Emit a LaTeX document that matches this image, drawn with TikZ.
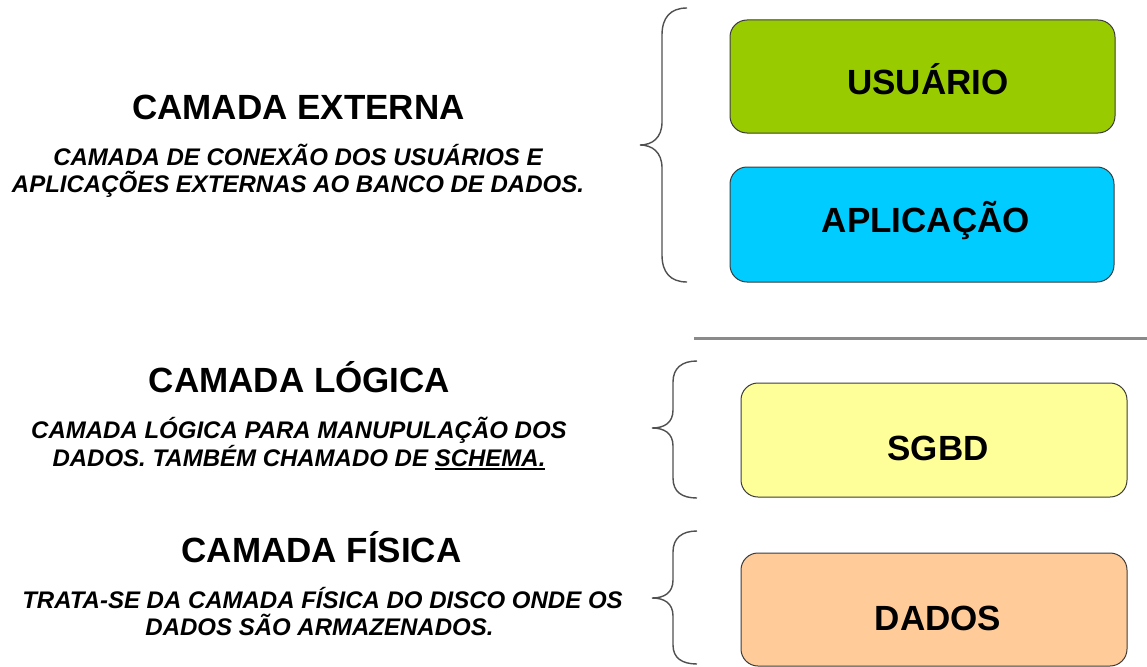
\documentclass[tikz,border=0pt]{standalone}
\usepackage{fontspec}
\setmainfont{Liberation Sans}
\definecolor{cgreen}{HTML}{99CC00}
\definecolor{ccyan}{HTML}{00CCFF}
\definecolor{cyellow}{HTML}{FFFF99}
\definecolor{corange}{HTML}{FFCC99}
\definecolor{boxline}{HTML}{3C3C3C}
\definecolor{bracecol}{HTML}{505050}
\definecolor{sepcol}{HTML}{8A8A8A}
\newcommand\myul[1]{\setbox0\hbox{#1}\rlap{\rule[-4pt]{\wd0}{1.6pt}}\box0}
\begin{document}
\begin{tikzpicture}[x=1pt,y=-1pt,
  layerbox/.style={draw=boxline, line width=1pt, rounded corners=17pt, inner sep=0pt},
  boxtext/.style={anchor=base, inner sep=0pt, font=\fontsize{35}{42}\selectfont\bfseries},
  titletext/.style={anchor=base, inner sep=0pt, font=\fontsize{35}{42}\selectfont\bfseries},
  desctext/.style={anchor=base, inner sep=0pt, font=\fontsize{24}{28}\selectfont\bfseries\itshape},
  bracepath/.style={draw=bracecol, line width=1.4pt},
]
\useasboundingbox (0,0) rectangle (1147,666);
\fill[white] (0,0) rectangle (1147,666);

% boxes
\node[layerbox, fill=cgreen, minimum width=385, minimum height=113] (usuario) at (922.5,76.5) {};
\node[boxtext] (usuarioT) at (928,95) {USUÁRIO};
\node[layerbox, fill=ccyan, minimum width=384, minimum height=115] (aplicacao) at (922,224.5) {};
\node[boxtext] (aplicacaoT) at (926,232) {APLICAÇÃO};
\node[layerbox, fill=cyellow, minimum width=386, minimum height=114] (sgbd) at (934,440) {};
\node[boxtext] (sgbdT) at (938,460) {SGBD};
\node[layerbox, fill=corange, minimum width=386, minimum height=113] (dados) at (934,609.5) {};
\node[boxtext] (dadosT) at (938,630) {DADOS};

% separator
\coordinate (sepA) at (694,338);
\coordinate (sepB) at (1147,338);
\draw[sepcol, line width=3pt] (sepA) -- (sepB);

% braces
\draw[bracepath] (687,8) .. controls (670,8) and (662,18) .. (662,35) -- (662,122)
  .. controls (662,138) and (652,145) .. (640,145)
  .. controls (652,145) and (662,152) .. (662,168) -- (662,255)
  .. controls (662,272) and (670,282) .. (687,282);
\draw[bracepath] (697,361) .. controls (682,361) and (673,368) .. (673,382) -- (673,410)
  .. controls (673,423) and (664,428) .. (652,428)
  .. controls (664,428) and (673,433) .. (673,446) -- (673,478)
  .. controls (673,492) and (682,498) .. (697,498);
\draw[bracepath] (697,531) .. controls (682,531) and (673,538) .. (673,552) -- (673,580)
  .. controls (673,593) and (664,598) .. (652,598)
  .. controls (664,598) and (673,603) .. (673,616) -- (673,645)
  .. controls (673,658) and (682,664) .. (697,664);

% left texts
\node[titletext] (extT) at (298.5,119) {CAMADA EXTERNA};
\node[desctext] (extD1) at (298,165) {CAMADA DE CONEXÃO DOS USUÁRIOS E};
\node[desctext] (extD2) at (298,192) {APLICAÇÕES EXTERNAS AO BANCO DE DADOS.};

\node[titletext] (logT) at (299.5,392) {CAMADA LÓGICA};
\node[desctext] (logD1) at (299,438) {CAMADA LÓGICA PARA MANUPULAÇÃO DOS};
\node[desctext] (logD2) at (299,466) {DADOS. TAMBÉM CHAMADO DE \myul{SCHEMA.}};

\node[titletext] (fisT) at (321.5,562) {CAMADA FÍSICA};
\node[desctext] (fisD1) at (322.5,608) {TRATA-SE DA CAMADA FÍSICA DO DISCO ONDE OS};
\node[desctext] (fisD2) at (319.5,635) {DADOS SÃO ARMAZENADOS.};
\end{tikzpicture}
\end{document}
